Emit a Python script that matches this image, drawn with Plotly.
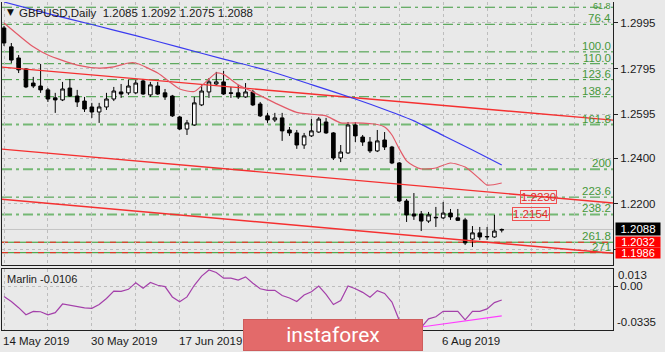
import plotly.graph_objects as go

# ---------------- data ----------------
symbol = "GBPUSD,Daily"
bars = list(range(69))
opens = [1.2973, 1.2890, 1.2841, 1.2793, 1.2731, 1.2718, 1.2701, 1.2666, 1.2657, 1.2709,
         1.2674, 1.2652, 1.2626, 1.2604, 1.2626, 1.2661, 1.2692, 1.2688, 1.2688, 1.2740,
         1.2679, 1.2718, 1.2688, 1.2674, 1.2582, 1.2529, 1.2547, 1.2635, 1.2692, 1.2727,
         1.2736, 1.2688, 1.2688, 1.2670, 1.2692, 1.2639, 1.2587, 1.2569, 1.2578, 1.2525,
         1.2512, 1.2459, 1.2499, 1.2516, 1.2560, 1.2512, 1.2402, 1.2424, 1.2547, 1.2494,
         1.2472, 1.2433, 1.2481, 1.2450, 1.2380, 1.2213, 1.2156, 1.2156, 1.2125, 1.2139,
         1.2139, 1.2160, 1.2139, 1.2130, 1.2046, 1.2073, 1.2055, 1.2055, 1.2085]
highs = [1.2982, 1.2907, 1.2854, 1.2797, 1.2758, 1.2815, 1.2709, 1.2688, 1.2736, 1.2749,
         1.2701, 1.2670, 1.2644, 1.2644, 1.2688, 1.2714, 1.2727, 1.2745, 1.2745, 1.2749,
         1.2736, 1.2736, 1.2705, 1.2679, 1.2587, 1.2569, 1.2670, 1.2723, 1.2753, 1.2780,
         1.2784, 1.2714, 1.2723, 1.2731, 1.2701, 1.2648, 1.2600, 1.2600, 1.2600, 1.2538,
         1.2525, 1.2512, 1.2573, 1.2582, 1.2578, 1.2516, 1.2459, 1.2560, 1.2560, 1.2503,
         1.2494, 1.2525, 1.2516, 1.2455, 1.2384, 1.2222, 1.2248, 1.2169, 1.2165, 1.2187,
         1.2209, 1.2178, 1.2178, 1.2139, 1.2103, 1.2099, 1.2099, 1.2152, 1.2092]
lows = [1.2894, 1.2819, 1.2775, 1.2709, 1.2709, 1.2688, 1.2648, 1.2600, 1.2652, 1.2670,
        1.2626, 1.2604, 1.2578, 1.2556, 1.2613, 1.2652, 1.2666, 1.2679, 1.2683, 1.2679,
        1.2670, 1.2679, 1.2657, 1.2582, 1.2525, 1.2503, 1.2543, 1.2630, 1.2666, 1.2723,
        1.2679, 1.2666, 1.2661, 1.2666, 1.2630, 1.2582, 1.2556, 1.2560, 1.2477, 1.2499,
        1.2442, 1.2442, 1.2494, 1.2512, 1.2508, 1.2393, 1.2384, 1.2420, 1.2472, 1.2455,
        1.2424, 1.2428, 1.2437, 1.2375, 1.2209, 1.2121, 1.2130, 1.2081, 1.2117, 1.2099,
        1.2134, 1.2130, 1.2125, 1.2020, 1.2011, 1.2042, 1.2042, 1.2051, 1.2075]
closes = [1.2907, 1.2832, 1.2789, 1.2714, 1.2718, 1.2701, 1.2661, 1.2657, 1.2705, 1.2674,
          1.2648, 1.2617, 1.2604, 1.2626, 1.2661, 1.2696, 1.2683, 1.2718, 1.2731, 1.2683,
          1.2723, 1.2683, 1.2670, 1.2587, 1.2529, 1.2556, 1.2644, 1.2696, 1.2736, 1.2736,
          1.2683, 1.2686, 1.2670, 1.2692, 1.2635, 1.2587, 1.2569, 1.2578, 1.2521, 1.2512,
          1.2459, 1.2499, 1.2521, 1.2573, 1.2512, 1.2402, 1.2428, 1.2547, 1.2499, 1.2472,
          1.2433, 1.2477, 1.2450, 1.2380, 1.2213, 1.2152, 1.2147, 1.2125, 1.2152, 1.2141,
          1.2160, 1.2143, 1.2128, 1.2029, 1.2073, 1.2055, 1.2057, 1.2081, 1.2088]

blue_ma_bars = [0, 6, 12, 18, 24, 30, 36, 42, 48, 52, 56, 60, 64, 68]
blue_ma_vals = [1.3087, 1.3036, 1.2988, 1.2939, 1.2888, 1.2836, 1.2786, 1.2724, 1.2661,
                1.2615, 1.2565, 1.2501, 1.2437, 1.2371]

red_ma_bars = [0, 4, 6, 10, 13, 15, 17, 18, 21, 24, 26, 28, 29, 30, 32, 34, 37, 40, 43, 44,
               46, 48, 51, 52, 53, 54, 55, 56, 57, 59, 61, 63, 65, 66, 68]
red_ma_vals = [1.2995, 1.2890, 1.2854, 1.2810, 1.2797, 1.2802, 1.2819, 1.2819, 1.2775, 1.2705,
               1.2694, 1.2749, 1.2775, 1.2769, 1.2723, 1.2692, 1.2644, 1.2602, 1.2591, 1.2587,
               1.2556, 1.2556, 1.2549, 1.2538, 1.2503, 1.2442, 1.2389, 1.2367, 1.2354, 1.2358,
               1.2380, 1.2362, 1.2310, 1.2283, 1.2292]

trend_bars = [-1, 84]
trend_upper = [1.2803, 1.2566]
trend_middle = [1.2443, 1.2202]
trend_lower = [1.2223, 1.1981]

fib_labels = ["61.8", "76.4", "100.0", "110.0", "123.6", "138.2", "161.8", "200",
              "223.6", "238.2", "261.8", "271"]
fib_prices = [1.3064, 1.2989, 1.2868, 1.2816, 1.2746, 1.2671, 1.2549, 1.2352,
              1.2230, 1.2154, 1.2032, 1.1986]

boxed_levels = [1.2230, 1.2154]
boxed_level_bars = [73, 72]
alert_levels = [1.2032, 1.1986]

price_ticks = [1.2995, 1.2795, 1.2595, 1.2400, 1.2200, 1.2000]
price_tick_text = ["1.2995", "1.2795", "1.2595", "1.2400", "1.2200", ""]

date_tick_bars = [0, 12, 24, 60]
date_tick_labels = ["14 May 2019", "30 May 2019", "17 Jun 2019", "6 Aug 2019"]
grid_bars = [0, 6, 12, 18, 24, 30, 36, 42, 48, 54, 60, 66, 72, 78]

marlin = [-0.0079, -0.0118, -0.0165, -0.0219, -0.0193, -0.0196, -0.0219, -0.0203, -0.0137, -0.0147,
          -0.0157, -0.0167, -0.0170, -0.0141, -0.0095, -0.0038, -0.0041, -0.0025, 0.0025, -0.0017,
          0.0027, 0.0006, -0.0004, -0.0083, -0.0120, -0.0083, 0.0006, 0.0076, 0.0122, 0.0103,
          0.0060, 0.0060, 0.0045, 0.0070, 0.0022, -0.0021, -0.0033, -0.0033, -0.0072, -0.0091,
          -0.0118, -0.0068, -0.0043, 0.0000, -0.0064, -0.0141, -0.0110, 0.0001, -0.0021, -0.0048,
          -0.0085, -0.0035, -0.0056, -0.0122, -0.0261, -0.0312, -0.0327, -0.0316, -0.0250, -0.0234,
          -0.0193, -0.0190, -0.0192, -0.0258, -0.0193, -0.0193, -0.0174, -0.0126, -0.0106]
marlin_trend_bars = [57, 68]
marlin_trend_vals = [-0.0312, -0.0227]
marlin_top, marlin_bottom = 0.013, -0.0335

# ---------------- styling ----------------
BG = "#e9e9e9"
FONT = "Liberation Sans"
GRID = "#bdbdbd"
FIB_GREEN = "#3c9a3c"
FIB_TEXT = "#46983a"

fig = go.Figure()

shapes = []
light = {"161.8", "200", "238.2"}
for lab, p in zip(fib_labels, fib_prices):
    if p in alert_levels:
        shapes.append(dict(type="line", xref="paper", x0=0, x1=1, yref="y", y0=p, y1=p,
                           line=dict(color="#2c9a2c", width=1), layer="below"))
        shapes.append(dict(type="line", xref="paper", x0=0, x1=1, yref="y", y0=p, y1=p,
                           line=dict(color="#ff2020", width=1, dash="6px,6px"), layer="below"))
    elif lab in light:
        shapes.append(dict(type="line", xref="paper", x0=0, x1=1, yref="y", y0=p, y1=p,
                           line=dict(color="#74b874", width=2, dash="10px,4px,3px,4px"), layer="below"))
    else:
        shapes.append(dict(type="line", xref="paper", x0=0, x1=1, yref="y", y0=p, y1=p,
                           line=dict(color=FIB_GREEN, width=1, dash="10px,4px,3px,4px"), layer="below"))
shapes.append(dict(type="line", xref="paper", x0=0, x1=1, yref="y", y0=closes[-1], y1=closes[-1],
                   line=dict(color="#c4c4c4", width=1), layer="below"))

for vals in (trend_upper, trend_middle, trend_lower):
    fig.add_trace(go.Scatter(x=trend_bars, y=vals, mode="lines",
                             line=dict(color="#f53030", width=1.4), hoverinfo="skip",
                             showlegend=False, xaxis="x", yaxis="y"))

fig.add_trace(go.Candlestick(
    x=bars, open=opens, high=highs, low=lows, close=closes,
    increasing=dict(line=dict(color="black", width=1), fillcolor="white"),
    decreasing=dict(line=dict(color="black", width=1), fillcolor="black"),
    whiskerwidth=0, showlegend=False, xaxis="x", yaxis="y"))

fig.add_trace(go.Scatter(x=blue_ma_bars, y=blue_ma_vals, mode="lines",
                         line=dict(color="#3b3bf0", width=1.2, shape="spline", smoothing=0.6),
                         showlegend=False, hoverinfo="skip", xaxis="x", yaxis="y"))
fig.add_trace(go.Scatter(x=red_ma_bars, y=red_ma_vals, mode="lines",
                         line=dict(color="#e35a68", width=1.2, shape="spline", smoothing=0.6),
                         showlegend=False, hoverinfo="skip", xaxis="x", yaxis="y"))

fig.add_trace(go.Scatter(x=bars, y=marlin, mode="lines",
                         line=dict(color="#a440aa", width=1.2),
                         showlegend=False, hoverinfo="skip", xaxis="x2", yaxis="y2"))
fig.add_trace(go.Scatter(x=marlin_trend_bars, y=marlin_trend_vals, mode="lines",
                         line=dict(color="#ff3cff", width=1.2),
                         showlegend=False, hoverinfo="skip", xaxis="x2", yaxis="y2"))

annotations = []
annotations.append(dict(xref="paper", yref="paper", x=0, y=1, xanchor="left", yanchor="top",
                        xshift=3, yshift=-3, text="▼", showarrow=False,
                        font=dict(family="DejaVu Sans", size=9, color="#111111")))
annotations.append(dict(xref="paper", yref="paper", x=0, y=1, xanchor="left", yanchor="top",
                        xshift=15, yshift=-3,
                        text=f"{symbol}  {opens[-1]:.4f} {highs[-1]:.4f} {lows[-1]:.4f} {closes[-1]:.4f}",
                        showarrow=False, font=dict(family=FONT, size=11.5, color="#1a1a1a")))
for lab, p in zip(fib_labels, fib_prices):
    if lab == fib_labels[0]:
        annotations.append(dict(xref="paper", yref="paper", x=1, y=1, xanchor="right", yanchor="top",
                                yshift=3, text=lab, showarrow=False,
                                font=dict(family=FONT, size=9, color=FIB_TEXT)))
        continue
    annotations.append(dict(xref="paper", yref="y", x=1, y=p, xanchor="right", yanchor="bottom",
                            xshift=0, yshift=-2, text=lab, showarrow=False,
                            font=dict(family=FONT, size=11.5, color=FIB_TEXT)))
for b, p in zip(boxed_level_bars, boxed_levels):
    annotations.append(dict(xref="x", yref="y", x=b, y=p, xanchor="center", yanchor="middle",
                            text=f"{p:.4f}", showarrow=False, bordercolor="#f05050",
                            borderwidth=1, borderpad=0, bgcolor="rgba(0,0,0,0)",
                            font=dict(family=FONT, size=11.5, color="#e42a2a")))
annotations.append(dict(xref="paper", yref="y", x=1, y=closes[-1], xanchor="left", yanchor="middle",
                        xshift=2, text=f"{closes[-1]:.4f}", showarrow=False, bgcolor="#000000",
                        width=44, height=12, borderpad=0,
                        font=dict(family=FONT, size=11.5, color="white")))
for p in alert_levels:
    annotations.append(dict(xref="paper", yref="y", x=1, y=p, xanchor="left", yanchor="middle",
                            xshift=2, text=f"{p:.4f}", showarrow=False, bgcolor="#ff0000",
                            width=44, height=10, borderpad=0,
                            font=dict(family=FONT, size=11, color="white")))
annotations.append(dict(xref="paper", yref="paper", x=0, y=0.186, xanchor="left", yanchor="top",
                        xshift=3, yshift=-2, text=f"Marlin {marlin[-1]:.4f}", showarrow=False,
                        font=dict(family=FONT, size=11, color="#1a1a1a")))
annotations.append(dict(xref="paper", yref="y2", x=1, y=marlin_top, xanchor="left", yanchor="top",
                        xshift=3, yshift=2, text=f"{marlin_top:.3f}", showarrow=False,
                        font=dict(family=FONT, size=11.5, color="#1a1a1a")))
annotations.append(dict(xref="paper", yref="y2", x=1, y=marlin_bottom, xanchor="left", yanchor="bottom",
                        xshift=2, yshift=0, text=f"{marlin_bottom:.4f}", showarrow=False,
                        font=dict(family=FONT, size=11.5, color="#1a1a1a")))
for b, lab in zip(date_tick_bars, date_tick_labels):
    annotations.append(dict(xref="x2", yref="paper", x=b, y=0, xanchor="left", yanchor="top",
                            xshift=-3, yshift=-3, text=lab, showarrow=False,
                            font=dict(family=FONT, size=11.5, color="#1a1a1a")))
annotations.append(dict(xref="paper", yref="paper", x=0.541, y=-0.0152, xanchor="center",
                        yanchor="middle", text="instaforex", showarrow=False,
                        bgcolor="#e36a6a", bordercolor="#cf5c5c", borderwidth=1,
                        width=176, height=28, font=dict(family="Roboto", size=21, color="white")))

xr = [-0.273, 83.2]
axis_common = dict(showgrid=True, gridcolor=GRID, griddash="3px,3px", gridwidth=1, zeroline=False)

fig.update_layout(
    width=665, height=352,
    margin=dict(l=2, r=52, t=2, b=22, pad=0),
    paper_bgcolor=BG, plot_bgcolor=BG,
    showlegend=False,
    shapes=shapes,
    annotations=annotations,
    xaxis=dict(domain=[0, 1], range=xr, anchor="y", tickvals=grid_bars, showticklabels=False,
               ticks="", showline=True, linecolor="#202020", linewidth=1,
               rangeslider=dict(visible=False), **axis_common),
    yaxis=dict(domain=[0.1982, 1.0], range=[1.1932, 1.3087], side="right", anchor="x",
               tickvals=price_ticks, ticktext=price_tick_text, ticks="outside", ticklen=4,
               tickcolor="#202020", showline=True, mirror=True, linecolor="#202020", linewidth=1,
               tickfont=dict(family=FONT, size=11.5, color="#1a1a1a"), **axis_common),
    xaxis2=dict(domain=[0, 1], range=xr, anchor="y2", matches="x", tickvals=grid_bars,
                showticklabels=False, ticks="", showline=True, mirror=True,
                linecolor="#202020", linewidth=1, **axis_common),
    yaxis2=dict(domain=[0, 0.186], range=[marlin_bottom, marlin_top], side="right", anchor="x2",
                tickvals=[0], ticktext=["0.00"], ticks="outside", ticklen=4, tickcolor="#202020",
                showline=True, mirror=True, linecolor="#202020", linewidth=1,
                tickfont=dict(family=FONT, size=11.5, color="#1a1a1a"), **axis_common),
)

fig.write_html("out.html")
